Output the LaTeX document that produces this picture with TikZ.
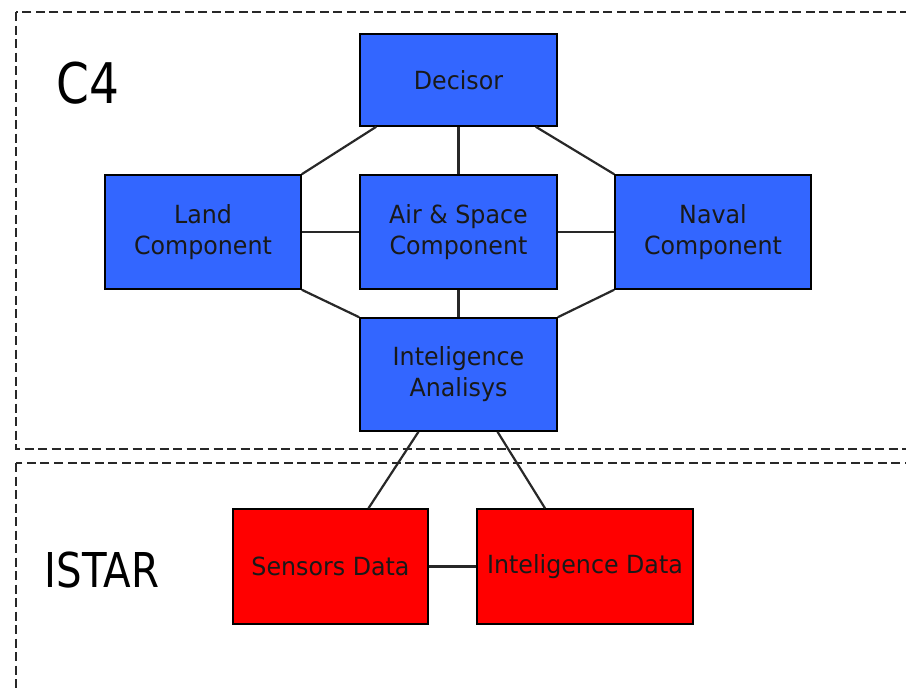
\documentclass[tikz,border=0pt]{standalone}
\usepackage{fontspec}
\setmainfont{DejaVu Sans}
\newcommand{\narrow}[2]{\scalebox{#1}[1]{#2}}
\newcommand{\bx}[1]{\narrow{0.95}{#1}}
\begin{document}
\begin{tikzpicture}[x=1pt,y=-1pt,
  unit/.style={draw=black, line width=1.5pt, fill=bluebox, inner sep=0pt,
    align=center, font=\fontsize{25}{31}\selectfont, text=black!90},
  datum/.style={unit, fill=redbox},
  link/.style={draw=linkgray, line width=2.2pt},
  zone/.style={draw=linkgray, line width=2.2pt, dash pattern=on 9pt off 4.5pt},
  zonelabel/.style={inner sep=0pt, anchor=base west}]
\definecolor{bluebox}{RGB}{51,102,255}
\definecolor{redbox}{RGB}{255,0,0}
\definecolor{linkgray}{RGB}{40,40,40}

\useasboundingbox (0,0) rectangle (906,688);
\clip (0,0) rectangle (906,688);

% dashed zones
\draw[zone] (16,12) rectangle (930,449);
\draw[zone] (16,463) rectangle (930,720);

% zone titles
\node[zonelabel, font=\fontsize{56}{60}\selectfont] (c4) at (56,103) {\narrow{0.84}{C4}};
\node[zonelabel, font=\fontsize{48}{52}\selectfont] (istar) at (44.5,587) {\narrow{0.84}{ISTAR}};

% C4 units
\node[unit, minimum width=197pt, minimum height=92pt] (dec) at (458.5,80) {\bx{Decisor}};
\node[unit, minimum width=196pt, minimum height=114pt] (land) at (203,232) {\bx{Land}\\\bx{Component}};
\node[unit, minimum width=197pt, minimum height=114pt] (air) at (458.5,232) {\bx{Air \& Space}\\\bx{Component}};
\node[unit, minimum width=196pt, minimum height=114pt] (naval) at (713,232) {\bx{Naval}\\\bx{Component}};
\node[unit, minimum width=197pt, minimum height=113pt] (ana) at (458.5,374.5) {\bx{Inteligence}\\\bx{Analisys}};

% ISTAR data sources
\node[datum, minimum width=195pt, minimum height=115pt] (sen) at (330.5,566.5) {\bx{Sensors Data}};
\node[datum, minimum width=216pt, minimum height=115pt] (idat) at (585,566.5) {\bx{Inteligence Data}};

% connections
\draw[link] ([xshift=17pt]dec.south west) -- (land.north east);
\draw[link] ([xshift=-22pt]dec.south east) -- (naval.north west);
\draw[link] (dec.south) -- (air.north);
\draw[link] (land.east) -- (air.west);
\draw[link] (air.east) -- (naval.west);
\draw[link] (air.south) -- (ana.north);
\draw[link] (land.south east) -- (ana.north west);
\draw[link] (naval.south west) -- (ana.north east);
\draw[link] ([xshift=-40pt]ana.south) -- ([xshift=38pt]sen.north);
\draw[link] ([xshift=39pt]ana.south) -- ([xshift=-40pt]idat.north);
\draw[link] (sen.east) -- (idat.west);
\end{tikzpicture}
\end{document}
